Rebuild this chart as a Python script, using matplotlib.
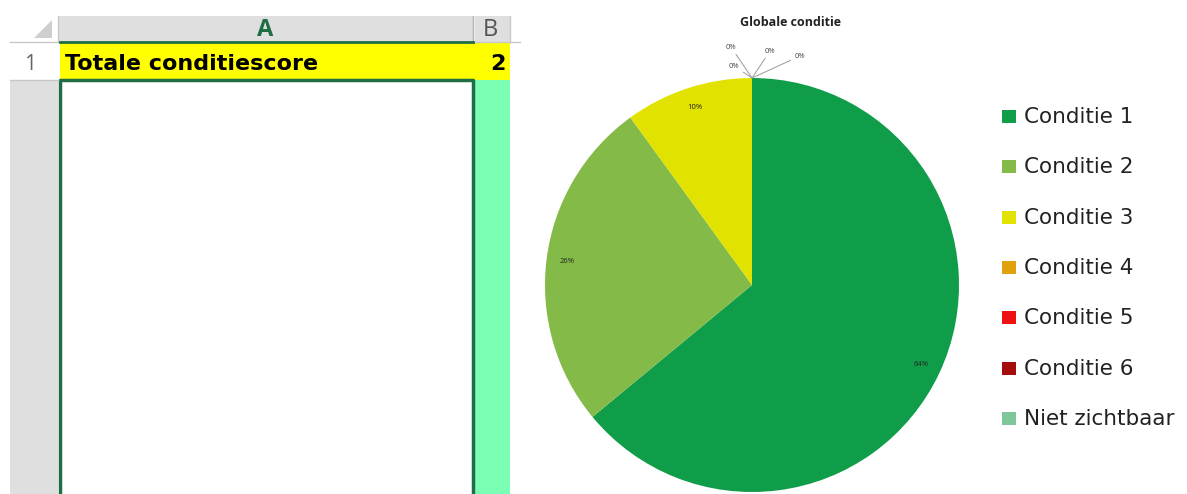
import matplotlib.pyplot as plt
from matplotlib.patches import Rectangle, Polygon
import numpy as np

# data
categories = ["Conditie 1", "Conditie 2", "Conditie 3", "Conditie 4",
              "Conditie 5", "Conditie 6", "Niet zichtbaar"]
shares = [64, 26, 10, 0, 0, 0, 0]
colors = ["#0f9d4a", "#84ba47", "#e2e200", "#e0a20a", "#ee1111", "#a50d0d", "#7fc79b"]
chart_title = "Globale conditie"
sheet_label = "Totale conditiescore"
sheet_score = 2

plt.rcParams['font.family'] = ['Open Sans', 'DejaVu Sans']

W, H = 1187, 494
fig = plt.figure(figsize=(W / 100, H / 100), dpi=100)

# background axes in pixel coords for the spreadsheet part
bg = fig.add_axes([0, 0, 1, 1])
bg.set_xlim(0, W)
bg.set_ylim(H, 0)
bg.axis('off')

grey = "#dfdfdf"
xl_green = "#1f6e43"

# column headers
bg.add_patch(Rectangle((58, 15), 415, 27, color=grey, lw=0))
bg.add_patch(Rectangle((475, 15), 35, 27, color=grey, lw=0))
bg.add_patch(Polygon([[52, 20], [52, 38], [34, 38]], closed=True, color="#cfcfcf", lw=0))
bg.text(265, 36, "A", ha='center', va='baseline', fontsize=17, fontweight='bold', color=xl_green)
bg.text(490, 36, "B", ha='center', va='baseline', fontsize=17, color="#555555")
bg.add_patch(Rectangle((0, 0), 520, 16, color="white", lw=0, zorder=5))
bg.plot([473, 473], [16, 42], color="#b0b0b0", lw=1)
bg.plot([510, 510], [16, 42], color="#c8c8c8", lw=1)
bg.plot([58, 58], [16, 42], color="#c8c8c8", lw=1)

# row 1
bg.plot([10, 520], [42, 42], color="#c8c8c8", lw=1)
bg.add_patch(Rectangle((60, 42), 450, 38, color="#ffff00", lw=0))
bg.plot([60, 473], [42, 42], color=xl_green, lw=2)
bg.text(30, 64, "1", ha='center', va='center', fontsize=15, color="#666666")
bg.text(65, 64, sheet_label, ha='left', va='center', fontsize=16, fontweight='bold',
        color="black", family='DejaVu Sans')
bg.text(506, 64, str(sheet_score), ha='right', va='center', fontsize=16, fontweight='bold',
        color="black", family='DejaVu Sans')

# rows below (selected)
bg.add_patch(Rectangle((10, 80), 48, H - 80, color=grey, lw=0))
bg.add_patch(Rectangle((475, 80), 35, H - 80, color="#7affb5", lw=0))
bg.plot([60, 60, 473, 473], [H + 5, 80, 80, H + 5], color=xl_green, lw=2.5)
bg.plot([10, 58], [80, 80], color="#c8c8c8", lw=1)

# pie chart
ax = fig.add_axes([(752 - 207) / W, 2 / H, 414 / W, 414 / H])
wedges, texts, autotexts = ax.pie(
    shares, colors=colors, startangle=90, counterclock=False,
    autopct=lambda p: f"{p:.0f}%" if p > 0.5 else "",
    pctdistance=0.9, textprops=dict(fontsize=5.5, color="#222222"),
    wedgeprops=dict(linewidth=0))
ax.set_xlim(-1, 1)
ax.set_ylim(-1, 1)

# leader labels for the empty slices
offsets = [(-21, 31), (-18, 12), (18, 27), (48, 22)]
zero_idx = [i for i, v in enumerate(shares) if v == 0]
for k, i in enumerate(zero_idx):
    ang = np.deg2rad(wedges[i].theta1)
    ax.annotate(f"{shares[i]}%", xy=(np.cos(ang), np.sin(ang)),
                xytext=offsets[k], textcoords='offset pixels',
                ha='center', va='center', fontsize=5.5, color="#444444",
                arrowprops=dict(arrowstyle='-', color="#999999", lw=0.7,
                                shrinkA=1, shrinkB=0),
                annotation_clip=False)

fig.text(790 / W, 1 - 22 / H, chart_title, ha='center', va='center',
         fontsize=9, fontweight='bold', color="#222222")

# legend
for i, (name, col) in enumerate(zip(categories, colors)):
    y = 117 + i * 50.3
    bg.add_patch(Rectangle((1002, y - 7), 14, 13, color=col, lw=0))
    bg.text(1024, y, name, ha='left', va='center', fontsize=15.5, color="#222222",
            family='DejaVu Sans')

fig.savefig("out.png", dpi=100)
